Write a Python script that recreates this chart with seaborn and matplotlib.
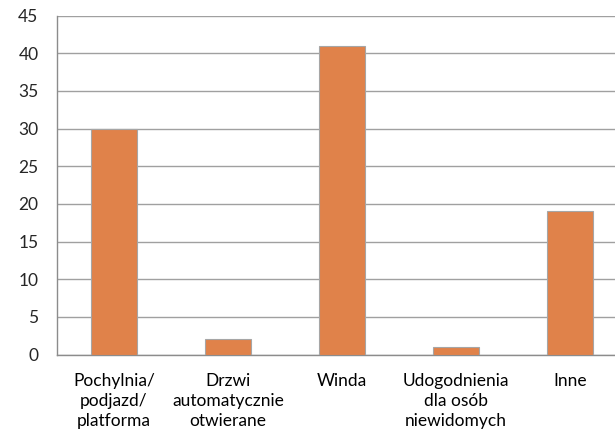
import seaborn as sns
import matplotlib.pyplot as plt
from matplotlib.ticker import FixedLocator

categories = ['Pochylnia/\npodjazd/\nplatforma', 'Drzwi\nautomatycznie\notwierane', 'Winda',
              'Udogodnienia\ndla osób\nniewidomych', 'Inne']
values = [30, 2, 41, 1, 19]
y_ticks = list(range(0, 50, 5))

sns.set_style('white')
plt.rcParams['font.family'] = ['Lato', 'DejaVu Sans']

fig = plt.figure(figsize=(6.15, 4.32), dpi=100)
# plot area runs past the right edge of the picture, like the original crop
ax = fig.add_axes([57 / 615, (432 - 354.5) / 432, 570 / 615, 338.8 / 432])

sns.barplot(x=categories, y=values, color='#E0824A', width=0.4, saturation=1,
            edgecolor='#A6A6A6', linewidth=0.8, ax=ax, zorder=3)

ax.set_xlim(-0.5, len(categories) - 0.5)
ax.set_ylim(0, 45)
ax.set_yticks(y_ticks)
ax.yaxis.grid(True, color='#A0A0A0', linewidth=1.0, zorder=0)
ax.set_axisbelow(True)

for s in ['top', 'right']:
    ax.spines[s].set_visible(False)
for s in ['left', 'bottom']:
    ax.spines[s].set_color('#8C8C8C')
    ax.spines[s].set_linewidth(1.0)

# category boundary ticks on x, none at the label positions
ax.xaxis.set_minor_locator(FixedLocator([i - 0.5 for i in range(len(categories) + 1)]))
ax.tick_params(axis='x', which='major', length=0, pad=13, labelsize=12.5, colors='black')
ax.tick_params(axis='x', which='minor', length=4.3, width=1.0, color='#8C8C8C')
ax.tick_params(axis='y', length=4.3, width=1.0, color='#8C8C8C', labelsize=12.5, pad=9)
for lab in ax.get_xticklabels():
    lab.set_linespacing(1.32)

ax.set_xlabel('')
ax.set_ylabel('')

fig.savefig('out.png', dpi=100)
